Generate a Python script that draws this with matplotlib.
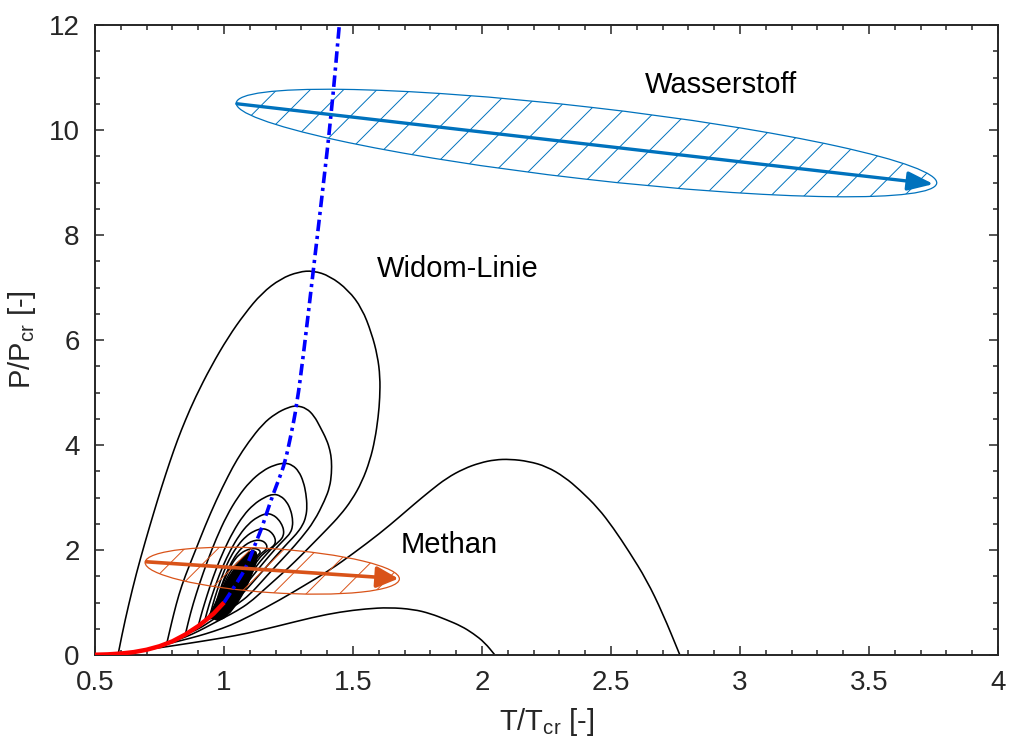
import matplotlib
matplotlib.use('Agg')
import matplotlib.pyplot as plt
from matplotlib.patches import Ellipse, PathPatch, Polygon
from matplotlib.path import Path
from matplotlib.transforms import Affine2D
from matplotlib.ticker import MultipleLocator

plt.rcParams['font.family'] = ['Liberation Sans', 'DejaVu Sans']
plt.rcParams['mathtext.fontset'] = 'custom'
plt.rcParams['mathtext.rm'] = 'Liberation Sans'
plt.rcParams['mathtext.it'] = 'Liberation Sans:italic'
plt.rcParams['hatch.linewidth'] = 0.7

# ---------------- data (reduced temperature T/Tcr, reduced pressure P/Pcr) ----------------
sat_T = [0.5, 0.55, 0.6, 0.65, 0.7, 0.75, 0.8, 0.85, 0.9, 0.93, 0.96, 0.98, 1.0]
sat_P = [0.005, 0.012, 0.028, 0.055, 0.1, 0.167, 0.26, 0.39, 0.55, 0.665, 0.79, 0.895, 1.0]

widom_T = [1.0, 1.023, 1.05, 1.088, 1.127, 1.146, 1.165, 1.191, 1.213, 1.236, 1.258, 1.282,
           1.31, 1.346, 1.38, 1.415, 1.447]
widom_P = [1.0, 1.17, 1.38, 1.68, 2.19, 2.41, 2.70, 3.07, 3.35, 3.66, 4.15, 4.75,
           5.8, 7.32, 8.75, 10.25, 12.0]

cA_T = [0.59, 0.605, 0.63, 0.66, 0.694, 0.727, 0.758, 0.79, 0.82, 0.85, 0.888, 0.95, 1.017, 1.08,
        1.146, 1.22, 1.29, 1.346, 1.41, 1.482, 1.535, 1.572, 1.595, 1.605, 1.604, 1.598, 1.585,
        1.566, 1.535, 1.495, 1.45, 1.40, 1.35, 1.30, 1.25, 1.20, 1.15, 1.10, 1.05, 1.00, 0.95,
        0.90, 0.85, 0.80]
cA_P = [0.024, 0.40, 0.95, 1.55, 2.15, 2.7, 3.2, 3.68, 4.1, 4.47, 4.9, 5.5, 6.06, 6.5,
        6.89, 7.17, 7.3, 7.32, 7.22, 6.95, 6.6, 6.13, 5.7, 5.30, 4.9, 4.54, 4.1,
        3.71, 3.3, 2.95, 2.66, 2.4, 2.15, 1.9, 1.66, 1.44, 1.22, 1.0, 0.84, 0.71, 0.58,
        0.45, 0.34, 0.26]

c2_T = [0.778, 0.79, 0.805, 0.825, 0.849, 0.89, 0.926, 0.97, 1.017, 1.05, 1.094, 1.15, 1.2, 1.25,
        1.282, 1.32, 1.35, 1.372, 1.398, 1.411, 1.417, 1.417, 1.41, 1.391, 1.35, 1.30, 1.25, 1.20,
        1.15, 1.10, 1.05, 1.00, 0.95, 0.90, 0.86]
c2_P = [0.216, 0.47, 0.78, 1.15, 1.5, 2.0, 2.45, 2.95, 3.42, 3.72, 4.05, 4.4, 4.6, 4.72,
        4.75, 4.7, 4.55, 4.35, 4.1, 3.9, 3.71, 3.46, 3.2, 2.95, 2.55, 2.23, 1.95, 1.69,
        1.42, 1.15, 0.96, 0.81, 0.65, 0.49, 0.417]

c3_T = [0.85, 0.862, 0.88, 0.905, 0.935, 0.97, 1.01, 1.055, 1.10, 1.15, 1.195, 1.236, 1.265, 1.29,
        1.308, 1.318, 1.322, 1.318, 1.305, 1.28, 1.25, 1.2, 1.15, 1.13, 1.1, 1.07, 1.05, 1.02,
        1.0, 0.96, 0.92]
c3_P = [0.388, 0.64, 0.97, 1.36, 1.78, 2.22, 2.65, 3.02, 3.3, 3.51, 3.62, 3.66, 3.62, 3.5,
        3.3, 3.07, 2.83, 2.64, 2.47, 2.3, 2.15, 1.88, 1.6, 1.49, 1.32, 1.16, 1.07, 0.97,
        0.9, 0.76, 0.627]

c4_T = [0.90, 0.91, 0.925, 0.945, 0.97, 1.0, 1.035, 1.075, 1.115, 1.155, 1.191, 1.22, 1.243, 1.258,
        1.266, 1.266, 1.258, 1.24, 1.2, 1.15, 1.13, 1.1, 1.07, 1.05, 1.02, 1.0, 0.97, 0.94]
c4_P = [0.55, 0.74, 0.99, 1.3, 1.65, 2.0, 2.35, 2.66, 2.87, 3.0, 3.07, 3.03, 2.92, 2.77,
        2.6, 2.45, 2.33, 2.23, 2.03, 1.74, 1.62, 1.44, 1.24, 1.14, 1.02, 0.94, 0.82, 0.71]

c5_T = [0.925, 0.935, 0.95, 0.97, 0.995, 1.025, 1.06, 1.095, 1.13, 1.165, 1.19, 1.21, 1.225, 1.232,
        1.23, 1.22, 1.2, 1.15, 1.13, 1.1, 1.07, 1.05, 1.02, 1.0, 0.975, 0.955]
c5_P = [0.647, 0.84, 1.08, 1.37, 1.69, 2.0, 2.29, 2.5, 2.63, 2.70, 2.67, 2.59, 2.48, 2.37,
        2.27, 2.19, 2.11, 1.84, 1.72, 1.52, 1.31, 1.2, 1.06, 0.965, 0.85, 0.776]

c6_T = [0.945, 0.953, 0.965, 0.98, 1.0, 1.025, 1.055, 1.085, 1.115, 1.146, 1.168, 1.185, 1.196, 1.2,
        1.196, 1.185, 1.15, 1.13, 1.1, 1.07, 1.05, 1.02, 1.0, 0.98, 0.965]
c6_P = [0.732, 0.9, 1.1, 1.33, 1.6, 1.87, 2.1, 2.26, 2.36, 2.41, 2.39, 2.33, 2.25, 2.17,
        2.1, 2.05, 1.92, 1.8, 1.59, 1.37, 1.25, 1.09, 0.985, 0.88, 0.823]

c7_T = [0.96, 0.967, 0.977, 0.99, 1.008, 1.03, 1.055, 1.08, 1.104, 1.127, 1.145, 1.157, 1.165, 1.167,
        1.162, 1.15, 1.13, 1.1, 1.07, 1.05, 1.02, 1.0, 0.985, 0.975]
c7_P = [0.80, 0.95, 1.12, 1.32, 1.55, 1.78, 1.97, 2.09, 2.16, 2.19, 2.18, 2.15, 2.1, 2.05,
        2.0, 1.96, 1.86, 1.67, 1.43, 1.29, 1.11, 0.993, 0.915, 0.871]

k1_T = [0.965, 0.972, 0.983, 0.998, 1.018, 1.042, 1.068, 1.092, 1.115, 1.128, 1.137, 1.141, 1.138,
        1.13, 1.1, 1.07, 1.05, 1.02, 1.0, 0.988, 0.98]
k1_P = [0.823, 0.98, 1.17, 1.39, 1.62, 1.83, 1.95, 2.01, 2.03, 2.02, 1.995, 1.965, 1.935,
        1.9, 1.71, 1.46, 1.31, 1.12, 0.996, 0.93, 0.894]

k2_T = [0.97, 0.977, 0.988, 1.003, 1.022, 1.045, 1.07, 1.088, 1.104, 1.112, 1.117, 1.118, 1.114,
        1.1, 1.07, 1.05, 1.02, 1.0, 0.99, 0.984]
k2_P = [0.847, 1.0, 1.18, 1.38, 1.57, 1.73, 1.83, 1.87, 1.89, 1.877, 1.857, 1.835, 1.815,
        1.745, 1.49, 1.33, 1.13, 0.997, 0.945, 0.916]

k3_T = [0.976, 0.983, 0.994, 1.009, 1.028, 1.05, 1.073, 1.095, 1.103, 1.107, 1.106, 1.095, 1.07,
        1.05, 1.02, 1.0, 0.99]
k3_P = [0.875, 1.02, 1.19, 1.37, 1.54, 1.66, 1.74, 1.77, 1.76, 1.74, 1.72, 1.665, 1.5,
        1.345, 1.14, 0.998, 0.946]

k4_T = [0.982, 0.989, 1.0, 1.015, 1.034, 1.055, 1.072, 1.086, 1.093, 1.097, 1.096, 1.085, 1.065,
        1.045, 1.02, 1.0, 0.993]
k4_P = [0.906, 1.04, 1.2, 1.37, 1.51, 1.6, 1.645, 1.665, 1.655, 1.64, 1.62, 1.57, 1.47,
        1.32, 1.145, 0.999, 0.96]

k5_T = [0.988, 0.995, 1.006, 1.02, 1.038, 1.058, 1.077, 1.084, 1.087, 1.085, 1.07, 1.05, 1.03,
        1.01, 1.0, 0.996]
k5_P = [0.937, 1.06, 1.22, 1.37, 1.48, 1.56, 1.595, 1.585, 1.57, 1.55, 1.49, 1.36, 1.22,
        1.07, 0.999, 0.975]

k6_T = [0.993, 1.0, 1.012, 1.028, 1.048, 1.068, 1.075, 1.077, 1.07, 1.05, 1.03, 1.01, 1.0]
k6_P = [0.962, 1.08, 1.24, 1.38, 1.48, 1.525, 1.515, 1.495, 1.46, 1.37, 1.23, 1.08, 1.0]

k7_T = [0.996, 1.004, 1.017, 1.035, 1.059, 1.066, 1.067, 1.055, 1.035, 1.015, 1.0]
k7_P = [0.979, 1.1, 1.25, 1.38, 1.455, 1.445, 1.425, 1.39, 1.28, 1.12, 1.0]

cB_T = [0.77, 0.83, 0.9, 0.96, 1.023, 1.1, 1.217, 1.31, 1.411, 1.5, 1.605, 1.68, 1.734, 1.8,
        1.863, 1.93, 1.992, 2.05, 2.109, 2.18, 2.251, 2.32, 2.38, 2.45, 2.509, 2.57, 2.638,
        2.70, 2.767]
cB_P = [0.2, 0.27, 0.36, 0.45, 0.56, 0.74, 1.05, 1.32, 1.62, 1.93, 2.32, 2.63, 2.86, 3.13,
        3.37, 3.55, 3.66, 3.72, 3.73, 3.69, 3.59, 3.39, 3.14, 2.8, 2.42, 1.97, 1.43,
        0.8, 0.0]

cC_T = [0.71, 0.76, 0.82, 0.9, 1.0, 1.088, 1.2, 1.346, 1.45, 1.55, 1.64, 1.734, 1.8, 1.863,
        1.92, 1.966, 2.01, 2.05]
cC_P = [0.111, 0.145, 0.19, 0.25, 0.33, 0.41, 0.54, 0.72, 0.82, 0.88, 0.905, 0.87, 0.79, 0.67,
        0.55, 0.41, 0.24, 0.0]

# densest part of the line family near the critical point (reads as solid black)
core_T = [0.93, 0.945, 0.96, 0.975, 0.995, 1.02, 1.045, 1.07, 1.095, 1.113, 1.124, 1.128,
          1.122, 1.108, 1.09, 1.07, 1.05, 1.025, 0.998, 0.975, 0.955]
core_P = [0.665, 0.78, 0.92, 1.08, 1.27, 1.49, 1.68, 1.84, 1.95, 1.99, 1.96, 1.87,
          1.72, 1.54, 1.33, 1.14, 0.98, 0.82, 0.7, 0.66, 0.7]

# hatched regions (centre, semi-axis vectors) and arrows (start, end)
h2_center = (2.405, 9.752)
h2_major = (1.3575, -0.765)
h2_minor = (0.0158, 0.681)
h2_arrow_start = (1.05, 10.50)
h2_arrow_end = (3.75, 8.97)

ch4_center = (1.187, 1.606)
ch4_major = (0.4927, -0.159)
ch4_minor = (0.0056, 0.418)
ch4_arrow_start = (0.70, 1.775)
ch4_arrow_end = (1.676, 1.455)

labels = ['Wasserstoff', 'Widom-Linie', 'Methan']
label_T = [2.632, 1.593, 1.685]
label_P = [10.70, 7.20, 1.937]

x_ticks = [0.5, 1, 1.5, 2, 2.5, 3, 3.5, 4]
x_ticklabels = ['0.5', '1', '1.5', '2', '2.5', '3', '3.5', '4']
y_ticks = [0, 2, 4, 6, 8, 10, 12]
y_ticklabels = ['0', '2', '4', '6', '8', '10', '12']

# ---------------- drawing ----------------
BLUE = '#0072BD'
ORANGE = '#D95319'
AXC = '#262626'

fig = plt.figure(figsize=(10.09, 7.47), dpi=100)
ax = fig.add_axes([95 / 1009, 92 / 747, 903 / 1009, 630 / 747])


def smooth_path(t, p):
    """Quadratic Bezier path through the read points (rendered smooth by matplotlib)."""
    verts = [(t[0], p[0])]
    codes = [Path.MOVETO]
    for i in range(1, len(t) - 1):
        verts.append((t[i], p[i]))
        verts.append(((t[i] + t[i + 1]) / 2, (p[i] + p[i + 1]) / 2))
        codes += [Path.CURVE3, Path.CURVE3]
    verts.append((t[-1], p[-1]))
    codes.append(Path.LINETO)
    return Path(verts, codes)


# dense core
ax.add_patch(Polygon(list(zip(core_T, core_P)), closed=True, facecolor='black',
                     edgecolor='black', lw=1.0, joinstyle='round', zorder=2))

contours = [(cA_T, cA_P), (c2_T, c2_P), (c3_T, c3_P), (c4_T, c4_P), (c5_T, c5_P),
            (c6_T, c6_P), (c7_T, c7_P), (k1_T, k1_P), (k2_T, k2_P), (k3_T, k3_P),
            (k4_T, k4_P), (k5_T, k5_P), (k6_T, k6_P), (k7_T, k7_P), (cB_T, cB_P),
            (cC_T, cC_P)]
for t, p in contours:
    ax.add_patch(PathPatch(smooth_path(t, p), fill=False, edgecolor='black', lw=1.15,
                           zorder=2, joinstyle='round'))


def hatched_ellipse(center, major, minor, color):
    tr = Affine2D().from_values(major[0], major[1], minor[0], minor[1],
                                center[0], center[1]) + ax.transData
    e = Ellipse((0, 0), 2, 2, transform=tr, fill=False, edgecolor=color,
                hatch='/', lw=0.9, zorder=3)
    ax.add_patch(e)


hatched_ellipse(h2_center, h2_major, h2_minor, BLUE)
hatched_ellipse(ch4_center, ch4_major, ch4_minor, ORANGE)

ax.add_patch(PathPatch(smooth_path(widom_T, widom_P), fill=False, edgecolor='#0000FF',
                       lw=2.6, linestyle=(0, (3.2, 1.3, 0.9, 1.3)), zorder=4))
ax.plot(sat_T, sat_P, color='#FF0000', lw=3.2, zorder=4, solid_capstyle='butt')

ax.annotate('', xy=h2_arrow_end, xytext=h2_arrow_start,
            arrowprops=dict(arrowstyle='-|>,head_length=0.65,head_width=0.24', lw=2.4,
                            color=BLUE, mutation_scale=24, shrinkA=0, shrinkB=0),
            zorder=5)
ax.annotate('', xy=ch4_arrow_end, xytext=ch4_arrow_start,
            arrowprops=dict(arrowstyle='-|>,head_length=0.55,head_width=0.27', lw=2.6,
                            color=ORANGE, mutation_scale=24, shrinkA=0, shrinkB=0),
            zorder=5)

for s, t, p in zip(labels, label_T, label_P):
    ax.text(t, p, s, fontsize=21, color='black', ha='left', va='baseline', zorder=6)

ax.set_xlim(0.5, 4)
ax.set_ylim(0, 12)
ax.set_xticks(x_ticks)
ax.set_xticklabels(x_ticklabels)
ax.set_yticks(y_ticks)
ax.set_yticklabels(y_ticklabels)
ax.xaxis.set_minor_locator(MultipleLocator(0.1))
ax.yaxis.set_minor_locator(MultipleLocator(0.5))
ax.tick_params(which='both', direction='in', top=True, right=True, color=AXC,
               labelcolor=AXC, labelsize=20, width=1.1)
ax.tick_params(which='major', length=6.5)
ax.tick_params(which='minor', length=3.5)
ax.tick_params(axis='x', which='major', pad=11)
ax.tick_params(axis='y', which='major', pad=11)
for sp in ax.spines.values():
    sp.set_color(AXC)
    sp.set_linewidth(1.4)

ax.set_xlabel(r'T/T$_{\rm cr}$ [-]', fontsize=21, color=AXC, labelpad=7)
ax.set_ylabel(r'P/P$_{\rm cr}$ [-]', fontsize=21, color=AXC, labelpad=8)

fig.savefig('out.png', dpi=100)
